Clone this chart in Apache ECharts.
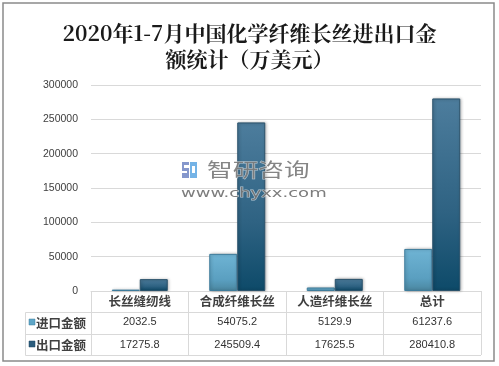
<!DOCTYPE html>
<html>
<head>
<meta charset="utf-8">
<script src="https://cdn.jsdelivr.net/npm/echarts@6/dist/echarts.min.js"></script>
<style>
html,body{margin:0;padding:0;background:#fff;}
#c{width:499px;height:366px;}
</style>
</head>
<body>
<div id="c"></div>
<script>
const categories = ['长丝缝纫线', '合成纤维长丝', '人造纤维长丝', '总计'];
const importValues = [2032.5, 54075.2, 5129.9, 61237.6];
const exportValues = [17275.8, 245509.4, 17625.5, 280410.8];
const seriesNames = ['进口金额', '出口金额'];
const yTicks = { min: 0, max: 300000, interval: 50000 };

const chart = echarts.init(document.getElementById('c'), null, { renderer: 'canvas' });
const cjk = '"Noto Sans CJK SC", "Microsoft YaHei", sans-serif';
const lineColor = '#d9d9d9';
const textColor = '#404040';
const importColor = new echarts.graphic.LinearGradient(0, 0, 0, 1, [
  { offset: 0, color: '#6fb4d4' },
  { offset: 0.7, color: '#5a9fc0' },
  { offset: 1, color: '#4a869f' }
]);
const exportColor = new echarts.graphic.LinearGradient(0, 0, 0, 1, [
  { offset: 0, color: '#4d7d9d' },
  { offset: 0.6, color: '#2e6282' },
  { offset: 1, color: '#0d4a69' }
]);

const hiddenAxis = (offset, data, margin) => ({
  type: 'category',
  position: 'bottom',
  offset: offset,
  data: data.map(v => v.toFixed(1)),
  axisLine: { show: true, lineStyle: { color: lineColor, width: 1 } },
  axisTick: { show: false },
  axisLabel: { color: '#333', fontSize: 11, fontFamily: '"Liberation Sans", Arial, sans-serif', margin: margin, interval: 0 },
  splitLine: { show: false }
});

const wm = 100;

chart.setOption({
  animation: false,
  backgroundColor: '#fff',
  title: {
    text: '2020年1-7月中国化学纤维长丝进出口金\n额统计（万美元）',
    left: 'center',
    top: 15,
    textStyle: {
      fontFamily: '"Noto Serif CJK SC", "Noto Sans CJK SC", serif',
      fontSize: 21,
      fontWeight: 'bold',
      color: '#1a1a1a',
      lineHeight: 26
    }
  },
  grid: { left: 91, right: 18, top: 85, bottom: 75 },
  xAxis: [
    {
      type: 'category',
      data: categories,
      axisLine: { show: true, lineStyle: { color: lineColor, width: 1 } },
      axisTick: { show: true, length: 64, lineStyle: { color: lineColor } },
      axisLabel: { color: textColor, fontSize: 12.5, fontWeight: 'bold', fontFamily: cjk, margin: 4, lineHeight: 13, interval: 0 }
    },
    hiddenAxis(21.5, importValues, 4),
    hiddenAxis(43, exportValues, 5)
  ],
  yAxis: {
    type: 'value',
    min: yTicks.min,
    max: yTicks.max,
    interval: yTicks.interval,
    axisLine: { show: false },
    axisTick: { show: false },
    axisLabel: { color: textColor, fontSize: 10.5, fontFamily: '"Liberation Sans", Arial, sans-serif', margin: 13, formatter: v => String(v) },
    splitLine: { lineStyle: { color: lineColor, width: 1 } }
  },
  series: [
    {
      name: seriesNames[0], type: 'bar', data: importValues, barWidth: 28, barGap: '0%',
      itemStyle: { color: importColor, borderColor: '#3f7d9c', borderWidth: 1, shadowBlur: 3, shadowColor: 'rgba(0,0,0,0.25)', shadowOffsetX: 1, shadowOffsetY: 0 }
    },
    {
      name: seriesNames[1], type: 'bar', data: exportValues, barWidth: 28, barGap: '0%',
      itemStyle: { color: exportColor, borderColor: '#2a526b', borderWidth: 1, shadowBlur: 3, shadowColor: 'rgba(0,0,0,0.3)', shadowOffsetX: 1, shadowOffsetY: 0 }
    }
  ],
  graphic: [
    { type: 'rect', shape: { x: 3, y: 3, width: 491, height: 358 }, style: { fill: 'none', stroke: '#8a8a8a', lineWidth: 1.5 }, silent: true, z: 0 },
    { type: 'line', shape: { x1: 25.5, y1: 312.5, x2: 91, y2: 312.5 }, style: { stroke: lineColor, lineWidth: 1 } },
    { type: 'line', shape: { x1: 25.5, y1: 334.5, x2: 91, y2: 334.5 }, style: { stroke: lineColor, lineWidth: 1 } },
    { type: 'line', shape: { x1: 25.5, y1: 355.5, x2: 481, y2: 355.5 }, style: { stroke: lineColor, lineWidth: 1 } },
    { type: 'line', shape: { x1: 25.5, y1: 312.5, x2: 25.5, y2: 355.5 }, style: { stroke: lineColor, lineWidth: 1 } },
    { type: 'rect', shape: { x: 29, y: 319, width: 6, height: 6 }, style: { fill: '#5ea6c7', stroke: '#3f7d9c', lineWidth: 0.5 } },
    { type: 'rect', shape: { x: 29, y: 341, width: 6, height: 6 }, style: { fill: '#2c5d7d', stroke: '#1e4560', lineWidth: 0.5 } },
    { type: 'text', x: 36, y: 323, style: { text: seriesNames[0], font: 'bold 12.5px ' + cjk, fill: textColor, textVerticalAlign: 'middle' } },
    { type: 'text', x: 36, y: 345, style: { text: seriesNames[1], font: 'bold 12.5px ' + cjk, fill: textColor, textVerticalAlign: 'middle' } },
    // watermark
    { type: 'rect', z: wm, silent: true, shape: { x: 182, y: 162, width: 7, height: 16 }, style: { fill: '#8597cc' } },
    { type: 'rect', z: wm, silent: true, shape: { x: 184, y: 165, width: 5, height: 3 }, style: { fill: '#fff' } },
    { type: 'rect', z: wm, silent: true, shape: { x: 182, y: 171, width: 5, height: 2 }, style: { fill: '#fff' } },
    { type: 'rect', z: wm, silent: true, shape: { x: 190, y: 162, width: 7, height: 16 }, style: { fill: '#74b3e6' } },
    { type: 'rect', z: wm, silent: true, shape: { x: 192, y: 166, width: 3, height: 7 }, style: { fill: '#fff' } },
    { type: 'text', z: wm, silent: true, x: 207, y: 170, scaleX: 1.35, style: { text: '智研咨询', font: '19px ' + cjk, fill: 'rgba(120,120,120,0.9)', stroke: 'rgba(255,255,255,0.6)', lineWidth: 1, textVerticalAlign: 'middle' } },
    { type: 'text', z: wm, silent: true, x: 181, y: 194, scaleX: 1.5, style: { text: 'www.chyxx.com', font: '12px "DejaVu Sans", sans-serif', fill: 'rgba(110,110,110,0.9)', stroke: 'rgba(255,255,255,0.6)', lineWidth: 1, textVerticalAlign: 'middle' } }
  ]
});
</script>
</body>
</html>
